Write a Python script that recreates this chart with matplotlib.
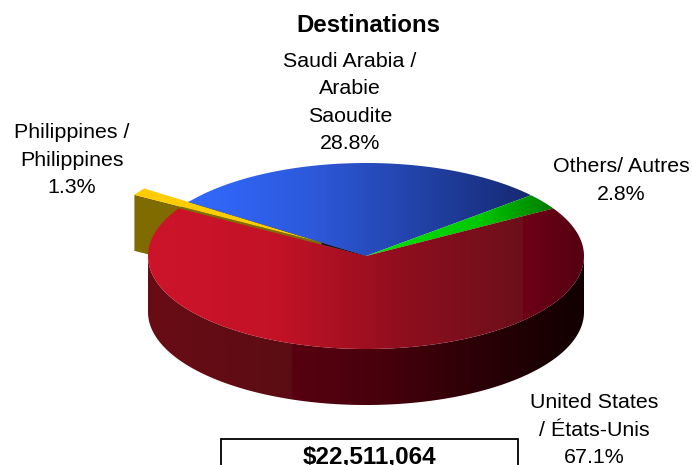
import numpy as np
import matplotlib
matplotlib.use('Agg')
import matplotlib.pyplot as plt
from matplotlib.patches import Polygon, Rectangle

plt.rcParams['font.family'] = ['Liberation Sans', 'DejaVu Sans']

categories = ['Saudi Arabia /\nArabie\nSaoudite', 'Others/ Autres', 'United States\n/ États-Unis', 'Philippines /\nPhilippines']
shares = [28.8, 2.8, 67.1, 1.3]
total_label = '$22,511,064'

# pie geometry in pixels
CX, CY = 366, 256
RX, RY = 218, 93
DEPTH = 56
START = 144.5
EXPLODE = 0.25


def ramp(stops, n=400):
    pos = [s[0] for s in stops]
    cols = np.array([s[1] for s in stops], dtype=float) / 255
    t = np.linspace(0, 1, n)
    return np.stack([np.interp(t, pos, cols[:, i]) for i in range(3)], axis=1)[np.newaxis, :, :]


def fill_gradient(ax, points, stops, x0, x1, y0, y1, zorder):
    clip = Polygon(points, closed=True, transform=ax.transData, fc='none', ec='none')
    ax.add_patch(clip)
    im = ax.imshow(ramp(stops), extent=(x0, x1, y1, y0), aspect='auto', zorder=zorder, interpolation='bilinear')
    im.set_clip_path(clip)


def wedge_points(a0, a1, cx=CX, cy=CY):
    t = np.radians(np.linspace(a0, a1, 300))
    pts = np.column_stack([cx + RX * np.cos(t), cy - RY * np.sin(t)])
    return np.vstack([[cx, cy], pts])


fig = plt.figure(figsize=(6.92, 4.65), dpi=100)
ax = fig.add_axes([0, 0, 1, 1])

angles = [START]
for s in shares:
    angles.append(angles[-1] - s * 3.6)

# exploded yellow slice, pushed out along the blue slice's edge
off = np.radians(START)
yx = CX + EXPLODE * RX * np.cos(off)
yy = CY - EXPLODE * RY * np.sin(off)
yellow = wedge_points(angles[3], angles[4], yx, yy)
low = yellow[1]
face = [(yx, yy), tuple(low), (low[0], low[1] + DEPTH), (yx, yy + DEPTH)]
# dark gap the slice leaves behind, between blue and red
ax.add_patch(Polygon(wedge_points(angles[3], angles[4]), closed=True, fc='#14142a', ec='#14142a', lw=0.5, zorder=1))
ax.add_patch(Polygon(face, closed=True, fc='#806b00', ec='none', zorder=1.5))
ax.add_patch(Polygon(yellow, closed=True, fc='#ffcc00', ec='none', zorder=2))

# blue and green tops
blue = wedge_points(angles[0], angles[1])
fill_gradient(ax, blue, [(0, (50, 105, 255)), (0.35, (45, 90, 220)), (1, (22, 42, 115))], 188, 530, 160, 260, 3)
green = wedge_points(angles[1], angles[2])
fill_gradient(ax, green, [(0, (0, 225, 0)), (0.6, (0, 200, 0)), (1, (0, 120, 0))], 366, 555, 195, 260, 3)

# red side wall
t = np.radians(np.linspace(180, 360, 300))
rim_x = CX + RX * np.cos(t)
rim_y = CY - RY * np.sin(t)
wall = np.vstack([np.column_stack([rim_x, rim_y]), np.column_stack([rim_x[::-1], rim_y[::-1] + DEPTH])])
fill_gradient(ax, wall, [(0, (105, 12, 20)), (0.33, (92, 12, 20)), (0.331, (88, 0, 16)), (0.55, (70, 0, 12)),
                         (0.8, (38, 0, 5)), (1, (18, 0, 0))], 148, 584, 250, 410, 4)

# red top
red = wedge_points(angles[2], angles[3])
fill_gradient(ax, red, [(0, (205, 20, 42)), (0.3, (195, 18, 38)), (0.6, (140, 14, 30)), (0.86, (108, 16, 26)),
                        (0.861, (110, 0, 22)), (1, (85, 0, 18))], 148, 584, 160, 350, 5)

ax.text(368, 26, 'Destinations', ha='center', va='center', fontsize=17.3, fontweight='bold')
label_pos = [(350, 102.5), (621, 180.5), (594, 430), (72, 160)]
for name, share, (lx, ly) in zip(categories, shares, label_pos):
    ax.text(lx, ly, f'{name}\n{share}%', ha='center', va='center', fontsize=15.4, linespacing=1.55, color='black')

ax.add_patch(Rectangle((221, 439), 297, 40, fc='white', ec='black', lw=1.3, zorder=6))
ax.text(369, 457, total_label, ha='center', va='center', fontsize=17.5, fontweight='bold', zorder=7)

ax.set_xlim(0, 692)
ax.set_ylim(465, 0)
ax.axis('off')
fig.savefig('out.png', dpi=100)
